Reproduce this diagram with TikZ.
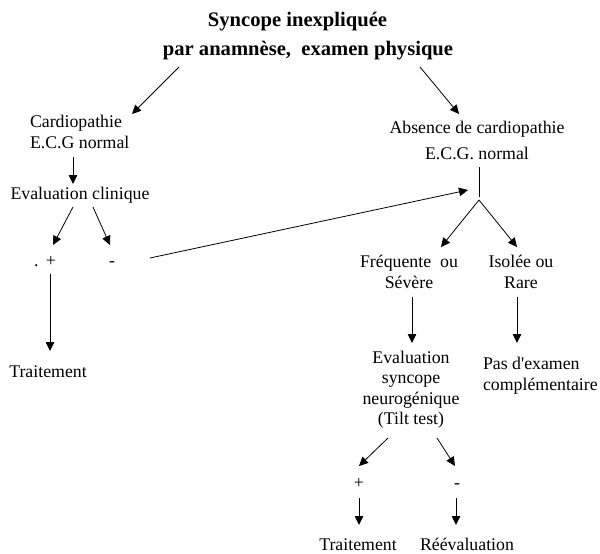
\documentclass[tikz,border=0pt]{standalone}
\usepackage{fontspec}
\setmainfont{Liberation Serif}
\usetikzlibrary{arrows.meta,calc}
\begin{document}
\begin{tikzpicture}[x=1pt,y=-1pt,
  txt/.style={inner sep=0pt, outer sep=0pt, font=\fontsize{17.8}{20.5}\selectfont},
  ttl/.style={inner sep=0pt, outer sep=0pt, font=\fontsize{20.6}{24}\selectfont\bfseries},
  arr/.style={line width=0.8pt, -{Triangle[length=9pt,width=8.5pt]}},
  ln/.style={line width=0.8pt}]
\useasboundingbox (0,0) rectangle (600,554);
% nodes (base anchor of a multi-line node = baseline of its last line)
\node[ttl,anchor=base] (t1) at (297.5,27) {Syncope inexpliquée};
\node[ttl,anchor=base] (t2) at (308,55) {par anamnèse,\ \ examen physique};
\node[txt,anchor=base west,align=left] (card) at (30,148) {Cardiopathie\\E.C.G normal};
\node[txt,anchor=base] (evc) at (80,199) {Evaluation clinique};
\node[txt,anchor=base] (pl) at (45,266) {.\hspace{7.5pt}+};
\node[txt,anchor=base] (mi) at (112,266) {-};
\node[txt,anchor=base] (trl) at (48,377) {Traitement};
\node[txt,anchor=base,align=center] (abs) at (477,159) {Absence de cardiopathie\\[5.5pt]E.C.G. normal};
\coordinate (br) at (479,200);
\node[txt,anchor=base,align=center] (freq) at (409,288) {Fréquente\ \ ou\\[0.5pt]Sévère};
\node[txt,anchor=base,align=center] (iso) at (521,288) {Isolée ou\\[0.5pt]Rare};
\node[txt,anchor=base,align=center] (evs) at (411,424.5) {Evaluation\\syncope\\neurogénique\\(Tilt test)};
\node[txt,anchor=base west,align=left] (pas) at (483,390) {Pas d\textquotesingle examen\\complémentaire};
\node[txt,anchor=base] (pl2) at (359,488) {+};
\node[txt,anchor=base] (mi2) at (457,488) {-};
\node[txt,anchor=base] (tr2) at (358,550) {Traitement};
\node[txt,anchor=base] (ree) at (467,550) {Réévaluation};
% connectors
\draw[arr] ($(t2.base)+(-129,12)$) -- ($(card.base west)+(102,-34)$);
\draw[arr] ($(t2.base)+(112,12)$) -- ($(abs.base)+(-18,-45)$);
\draw[arr] ($(card.base west)+(43,9)$) -- ($(evc.base)+(-7,-15)$);
\draw[arr] ($(evc.base)+(-7,8)$) -- ($(pl.base)+(8,-21)$);
\draw[arr] ($(evc.base)+(13,8)$) -- ($(mi.base)+(-2,-21)$);
\draw[arr] ($(pl.base)+(5,8)$) -- ($(trl.base)+(2,-26)$);
\draw[arr] ($(mi.base)+(38,-8)$) -- ($(br)+(-11,-10)$);
\draw[ln] ($(abs.base)+(2,8)$) -- ($(br)+(0,-3)$);
\draw[arr] (br) -- ($(freq.base)+(32,-41)$);
\draw[arr] (br) -- ($(iso.base)+(-4,-41)$);
\draw[arr] ($(freq.base)+(3,9)$) -- ($(evs.base)+(1,-81.5)$);
\draw[arr] ($(iso.base)+(-4,9)$) -- ($(pas.base west)+(34,-47)$);
\draw[arr] ($(evs.base)+(-23,13.5)$) -- ($(pl2.base)+(0,-22)$);
\draw[arr] ($(evs.base)+(26,13.5)$) -- ($(mi2.base)+(-2,-22)$);
\draw[arr] ($(pl2.base)+(0,10)$) -- ($(tr2.base)+(1,-25)$);
\draw[arr] ($(mi2.base)+(-1,10)$) -- ($(ree.base)+(-11,-25)$);
\end{tikzpicture}
\end{document}
